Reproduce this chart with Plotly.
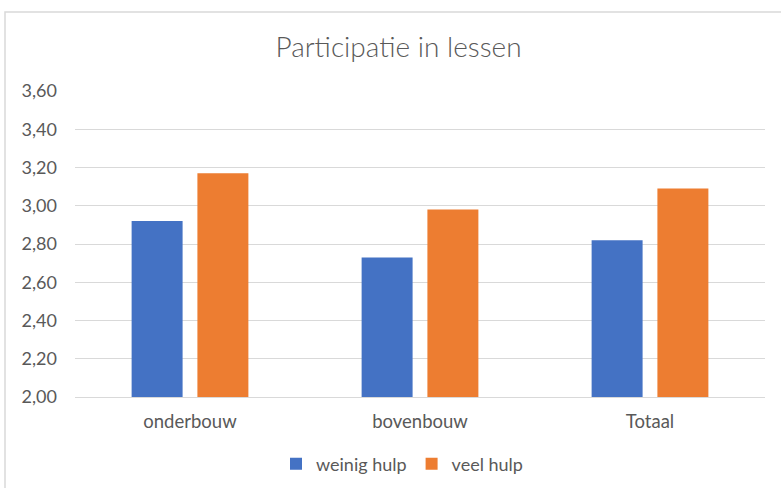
import plotly.graph_objects as go

categories = ["onderbouw", "bovenbouw", "Totaal"]
weinig_hulp = [2.92, 2.73, 2.82]
veel_hulp = [3.17, 2.98, 3.09]
y_ticks = [2.0, 2.2, 2.4, 2.6, 2.8, 3.0, 3.2, 3.4, 3.6]
y_tick_labels = ["2,00", "2,20", "2,40", "2,60", "2,80", "3,00", "3,20", "3,40", "3,60"]

FONT = "Lato"
GREY = "#595959"

fig = go.Figure()
fig.add_trace(go.Bar(name="weinig hulp", x=categories, y=weinig_hulp,
                     marker=dict(color="#4472C4", line=dict(width=0))))
fig.add_trace(go.Bar(name="veel hulp", x=categories, y=veel_hulp,
                     marker=dict(color="#ED7D31", line=dict(width=0))))

fig.update_layout(
    width=781, height=488,
    margin=dict(l=75, r=16, t=91, b=91, autoexpand=False),
    paper_bgcolor="white", plot_bgcolor="white",
    barmode="group", bargap=0.428, bargroupgap=0.225,
    title=dict(text="Participatie in lessen", x=398.5 / 781, xanchor="center",
               y=(488 - 47) / 488, yanchor="middle",
               font=dict(family="Lato Light, Lato", size=28, color=GREY, weight=300)),
    font=dict(family=FONT, size=18, color=GREY),
    xaxis=dict(showgrid=False, showline=True, linecolor="#d9d9d9", linewidth=1,
               ticks="", tickfont=dict(size=18.5, color=GREY), ticklabelstandoff=8),
    yaxis=dict(range=[2.0, 3.6], tickvals=y_ticks, ticktext=y_tick_labels,
               showgrid=True, gridcolor="#d9d9d9", gridwidth=1, zeroline=False,
               showline=False, ticks="", tickfont=dict(size=18, color=GREY),
               ticklabelstandoff=17),
    legend=dict(orientation="h", x=(402 - 75) / 690, xanchor="center",
                y=(397 - 464) / 306, yanchor="middle",
                font=dict(size=18, color=GREY), itemwidth=30,
                traceorder="normal"),
    showlegend=True,
)

fig.add_shape(type="rect", xref="paper", yref="paper",
              x0=(5 - 75) / 690, x1=(795 - 75) / 690,
              y0=(397 - 500) / 306, y1=(397 - 12) / 306,
              line=dict(color="#d9d9d9", width=1.5), fillcolor="rgba(0,0,0,0)",
              layer="below")

fig.write_html("out.html", config={"displayModeBar": False},
               post_script="document.body.style.margin='0';document.body.style.overflow='hidden';")
